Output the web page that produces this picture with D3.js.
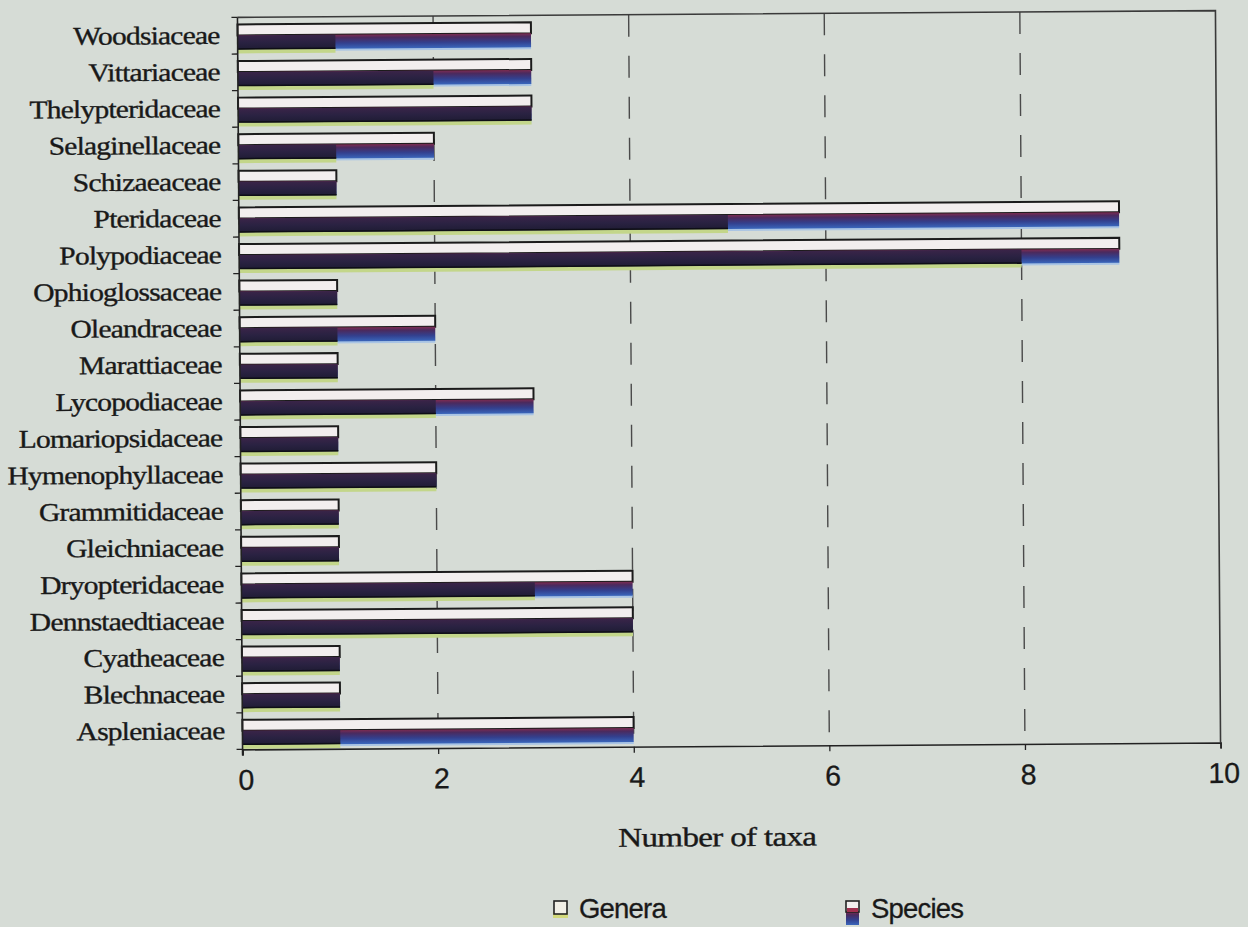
<!DOCTYPE html>
<html>
<head>
<meta charset="utf-8">
<script src="https://cdn.jsdelivr.net/npm/d3@7"></script>
<style>
  html, body { margin: 0; padding: 0; background: #d6dcd6; }
  svg { display: block; }
</style>
</head>
<body>
<svg id="chart" width="1248" height="927"></svg>
<script>
// Fern families, listed top to bottom as they appear on the chart
const families = [
  "Woodsiaceae", "Vittariaceae", "Thelypteridaceae", "Selaginellaceae", "Schizaeaceae",
  "Pteridaceae", "Polypodiaceae", "Ophioglossaceae", "Oleandraceae", "Marattiaceae",
  "Lycopodiaceae", "Lomariopsidaceae", "Hymenophyllaceae", "Grammitidaceae", "Gleichniaceae",
  "Dryopteridaceae", "Dennstaedtiaceae", "Cyatheaceae", "Blechnaceae", "Aspleniaceae"
];
const genera  = [1, 2, 3, 1, 1, 5, 8, 1, 1, 1, 2, 1, 2, 1, 1, 3, 4, 1, 1, 1];
const species = [3, 3, 3, 2, 1, 9, 9, 1, 2, 1, 3, 1, 2, 1, 1, 4, 4, 1, 1, 4];
const xTicks = [0, 2, 4, 6, 8, 10];
const seriesNames = ["Genera", "Species"];

const svg = d3.select("#chart");
const margin = { left: 240, right: 1218, top: 14, bottom: 746 };

const x = d3.scaleLinear().domain([0, 10]).range([margin.left, margin.right]);
const y = d3.scaleBand().domain(families).range([margin.top, margin.bottom]).padding(0);
const bw = y.bandwidth();

const serif = "'Liberation Serif', 'Times New Roman', serif";
const sans = "'Liberation Sans', Arial, sans-serif";
const ink = "#191919";

const defs = svg.append("defs");
const grad = defs.append("linearGradient").attr("id", "spGrad")
  .attr("x1", 0).attr("y1", 0).attr("x2", 0).attr("y2", 1);
grad.append("stop").attr("offset", "0%").attr("stop-color", "#7c2c52");
grad.append("stop").attr("offset", "22%").attr("stop-color", "#4b2a5e");
grad.append("stop").attr("offset", "60%").attr("stop-color", "#33408e");
grad.append("stop").attr("offset", "100%").attr("stop-color", "#3a66bb");

const gGrad = defs.append("linearGradient").attr("id", "gnGrad")
  .attr("x1", 0).attr("y1", 0).attr("x2", 0).attr("y2", 1);
gGrad.append("stop").attr("offset", "0%").attr("stop-color", "#3a2448");
gGrad.append("stop").attr("offset", "50%").attr("stop-color", "#2a2242");
gGrad.append("stop").attr("offset", "100%").attr("stop-color", "#1f1c34");

// The printed chart sits slightly tilted on the page
const cx = (margin.left + margin.right) / 2, cy = (margin.top + margin.bottom) / 2;
const g = svg.append("g").attr("transform", `rotate(-0.4, ${cx}, ${cy})`);

// Dashed vertical gridlines
g.append("g").selectAll("line").data(xTicks.filter(d => d > 0 && d < 10)).join("line")
  .attr("x1", d => x(d)).attr("x2", d => x(d))
  .attr("y1", margin.top).attr("y2", margin.bottom)
  .attr("stroke", "#4a4a4a").attr("stroke-width", 1.4)
  .attr("stroke-dasharray", "22 19");

// Plot frame: top and right edges
g.append("path")
  .attr("d", `M${margin.left},${margin.top}H${margin.right}V${margin.bottom}`)
  .attr("fill", "none").attr("stroke", "#3a3a3a").attr("stroke-width", 1.6);

const rows = g.append("g").selectAll("g").data(families).join("g")
  .attr("transform", d => `translate(0,${y(d)})`);

// Upper outlined bar (species length)
rows.append("rect")
  .attr("x", x(0)).attr("y", 7)
  .attr("width", (d, i) => x(species[i]) - x(0)).attr("height", 11)
  .attr("fill", "#f2eeee").attr("stroke", "#1b1b1b").attr("stroke-width", 2);

// Species bar: light fringe then gradient body
rows.append("rect")
  .attr("x", x(0)).attr("y", 31)
  .attr("width", (d, i) => x(species[i]) - x(0)).attr("height", 3)
  .attr("fill", "#a9c4e4");
rows.append("rect")
  .attr("x", x(0)).attr("y", 18)
  .attr("width", (d, i) => x(species[i]) - x(0)).attr("height", 14)
  .attr("fill", "url(#spGrad)");

// Genera bar: yellow-green shadow and dark body
rows.append("rect")
  .attr("x", x(0)).attr("y", 31)
  .attr("width", (d, i) => x(genera[i]) - x(0)).attr("height", 5)
  .attr("fill", "#c3d68a");
rows.append("rect")
  .attr("x", x(0)).attr("y", 18)
  .attr("width", (d, i) => x(genera[i]) - x(0)).attr("height", 14)
  .attr("fill", "url(#gnGrad)");
rows.append("line")
  .attr("x1", x(0)).attr("x2", (d, i) => x(genera[i]))
  .attr("y1", 31.5).attr("y2", 31.5)
  .attr("stroke", "#0e0e16").attr("stroke-width", 1.5);

// Category axis: line and boundary ticks
g.append("line")
  .attr("x1", x(0)).attr("x2", x(0)).attr("y1", margin.top).attr("y2", margin.bottom + 6)
  .attr("stroke", "#222").attr("stroke-width", 1.6);
const bounds = families.map(d => y(d)).concat([margin.bottom]);
g.append("g").selectAll("line").data(bounds).join("line")
  .attr("x1", x(0) - 6).attr("x2", x(0))
  .attr("y1", d => d).attr("y2", d => d)
  .attr("stroke", "#222").attr("stroke-width", 1.3);

// Category labels
g.append("g").selectAll("text").data(families).join("text")
  .attr("transform", d => `translate(222,${y(d) + bw / 2 + 8}) scale(1.16,1)`)
  .attr("text-anchor", "end")
  .attr("font-family", serif)
  .attr("font-size", 25.5)
  .attr("letter-spacing", -0.7)
  .attr("fill", ink).attr("stroke", ink).attr("stroke-width", 0.35)
  .text(d => d);

// Value axis
const xAxis = d3.axisBottom(x).tickValues(xTicks).tickSize(6).tickPadding(14).tickFormat(d3.format("d"));
const xa = g.append("g").attr("transform", `translate(0,${margin.bottom})`).call(xAxis);
xa.select(".domain").attr("stroke", "#222").attr("stroke-width", 1.6);
xa.selectAll(".tick line").attr("stroke", "#222").attr("stroke-width", 1.3);
xa.selectAll(".tick text")
  .attr("font-family", sans)
  .attr("font-size", 28.5).attr("fill", ink)
  .attr("stroke", ink).attr("stroke-width", 0.3)
  .attr("dx", 3);

// Axis title
g.append("text")
  .attr("transform", `translate(714,846) scale(1.23,1)`)
  .attr("text-anchor", "middle")
  .attr("font-family", serif)
  .attr("font-size", 27)
  .attr("letter-spacing", -0.6)
  .attr("fill", ink).attr("stroke", ink).attr("stroke-width", 0.35)
  .text("Number of taxa");

// Legend
const legend = svg.append("g");
const keyX = [553, 845];
const lg = legend.selectAll("g").data(seriesNames).join("g")
  .attr("transform", (d, i) => `translate(${keyX[i]},900)`);
lg.filter((d, i) => i === 0).call(k => {
  k.append("rect").attr("x", 0).attr("y", 12).attr("width", 15).attr("height", 6).attr("fill", "#d3d97c");
  k.append("rect").attr("x", 1).attr("y", 1).attr("width", 13).attr("height", 13)
    .attr("fill", "#f1efe6").attr("stroke", "#222").attr("stroke-width", 1.6);
});
lg.filter((d, i) => i === 1).call(k => {
  k.append("rect").attr("x", 1).attr("y", 12).attr("width", 13).attr("height", 13).attr("fill", "url(#spGrad)");
  k.append("rect").attr("x", 1).attr("y", 1).attr("width", 13).attr("height", 11)
    .attr("fill", "#f2eeee").attr("stroke", "#222").attr("stroke-width", 1.6);
  k.append("rect").attr("x", 2).attr("y", 8).attr("width", 11).attr("height", 4).attr("fill", "#a0304f");
});
lg.append("text")
  .attr("x", 26).attr("y", 18)
  .attr("font-family", sans)
  .attr("font-size", 27.5).attr("fill", ink)
  .attr("stroke", ink).attr("stroke-width", 0.3)
  .attr("letter-spacing", -0.8)
  .text(d => d);
</script>
</body>
</html>
